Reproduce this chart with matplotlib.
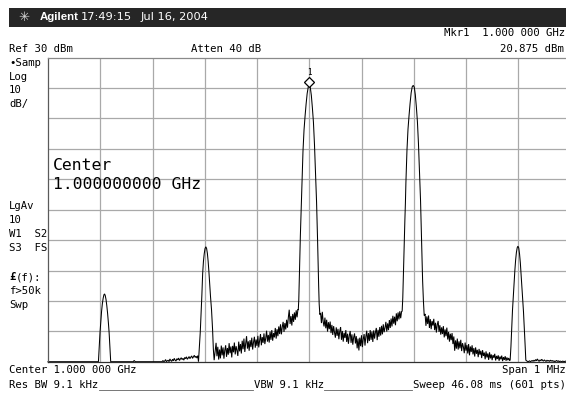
import matplotlib
matplotlib.use("Agg")
import matplotlib.pyplot as plt
from matplotlib.patches import Rectangle

# ---- instrument settings ----
ref_level_dbm = 30
scale_db_per_div = 10
span_khz = 1000
sweep_points = 601
bin_khz = span_khz / (sweep_points - 1)
marker_khz = 0.0
marker_dbm = 20.875

# ---- carrier responses: (offset from center in kHz, level in dBm) ----
peak_m400 = [(-403.5, -70.0), (-402.0, -65.0), (-400.5, -60.5), (-399.0, -57.0),
             (-397.5, -53.5), (-396.0, -51.0), (-394.5, -49.2), (-393.0, -48.0),
             (-391.8, -47.7), (-390.5, -48.2), (-389.0, -49.5), (-387.5, -51.5),
             (-386.0, -54.0), (-384.5, -57.0), (-383.0, -60.5), (-381.5, -65.0),
             (-380.0, -70.0)]
peak_m200 = [(-212.0, -70.0), (-210.0, -64.5), (-208.5, -60.0), (-207.0, -54.0),
             (-205.5, -48.0), (-204.0, -41.0), (-202.5, -37.0), (-201.0, -34.5),
             (-199.5, -32.8), (-198.0, -32.2), (-196.5, -32.7), (-195.0, -34.3),
             (-193.5, -37.0), (-192.0, -40.5), (-190.5, -44.5), (-189.0, -48.5),
             (-187.0, -53.0), (-185.0, -59.5), (-183.5, -66.0), (-182.0, -69.5)]
peak_0 = [(-21.0, -53.0), (-20.0, -49.5), (-19.0, -42.0), (-18.0, -35.0), (-17.0, -28.5),
          (-16.0, -23.0), (-15.0, -18.5), (-14.0, -11.5), (-13.0, -6.0), (-12.0, -0.8),
          (-11.0, 3.0), (-10.0, 6.2), (-8.0, 10.8), (-6.0, 14.8), (-4.0, 18.2),
          (-2.0, 20.3), (0.0, 20.875), (2.0, 20.2), (4.0, 17.6), (6.0, 13.5),
          (8.0, 8.8), (10.0, 1.5), (12.0, -8.0), (14.0, -17.5), (16.0, -30.5),
          (17.0, -38.5), (18.0, -45.0), (19.0, -51.0), (20.3, -54.5)]
peak_200 = [(177.8, -53.4), (179.0, -49.0), (180.0, -42.5), (181.0, -35.5), (182.0, -29.0),
            (183.0, -23.5), (184.0, -18.0), (185.0, -11.0), (186.0, -5.5), (187.0, -0.5),
            (188.0, 3.2), (189.0, 6.5), (191.0, 11.0), (193.0, 15.0), (195.0, 18.4),
            (197.0, 20.4), (199.0, 20.9), (201.0, 20.3), (203.0, 17.8), (205.0, 13.8),
            (207.0, 9.0), (209.0, 1.8), (211.0, -7.5), (213.0, -17.0), (215.0, -29.5),
            (216.0, -37.0), (217.0, -43.5), (218.5, -50.0), (220.0, -54.8)]
peak_400 = [(384.5, -69.5), (386.0, -65.0), (387.5, -59.0), (389.0, -53.0), (390.5, -48.5),
            (392.0, -44.5), (393.5, -40.0), (395.0, -36.5), (396.5, -34.0), (398.0, -32.5),
            (399.4, -32.0), (401.0, -32.6), (402.5, -34.6), (404.0, -37.5), (405.5, -41.5),
            (407.0, -45.5), (408.5, -49.5), (410.0, -53.5), (411.5, -58.5), (413.0, -64.0),
            (414.5, -69.5)]

# ---- flat floor stretches (kHz, dBm) ----
floor_left = [(-500.0, -70.0), (-405.0, -70.0)]
floor_mid = [(-378.0, -70.0), (-337.0, -70.0), (-335.0, -69.6), (-333.0, -70.0),
             (-283.3, -70.0)]

# ---- noise stretches: first bin offset (kHz) and the dBm of each following bin ----
noise_a_start = -281.67
noise_a = [-70.0, -69.6, -70.0, -69.8, -69.3, -70.0, -69.7, -69.5, -70.0, -69.1,
           -69.6, -69.9, -69.2, -69.7, -68.9, -69.5, -69.8, -69.0, -69.4, -68.8,
           -69.6, -69.1, -68.7, -69.3, -68.9, -69.5, -68.6, -69.0, -68.4, -69.2,
           -68.8, -68.3, -69.0, -68.5, -68.1, -68.9, -68.4, -67.9, -68.6, -68.2,
           -68.8, -68.0]
noise_b_start = -178.33
noise_b = [-63.8, -68.2, -65.1, -69.3, -66.0, -68.9, -64.7, -67.9, -65.3, -69.0,
           -66.2, -64.6, -68.4, -65.5, -67.7, -63.9, -67.2, -65.0, -68.6, -64.8,
           -66.9, -63.7, -67.6, -64.9, -66.3, -68.1, -63.4, -66.6, -64.2, -67.3,
           -63.1, -65.9, -62.4, -66.8, -64.0, -61.6, -65.7, -63.3, -66.4, -62.9,
           -65.2, -62.1, -66.0, -63.6, -61.8, -65.4, -62.7, -64.8, -61.5, -65.3,
           -63.0, -60.9, -64.6, -61.9, -63.8, -60.7, -64.2, -62.3, -59.8, -63.4,
           -61.2, -63.7, -60.1, -62.8, -59.6, -63.1, -60.6, -62.0, -58.9, -62.4,
           -59.3, -61.6, -58.4, -60.9, -57.7, -61.0, -58.6, -56.9, -60.2, -57.3,
           -59.4, -56.2, -58.8, -55.4, -52.9, -57.6, -55.0, -58.1, -54.3, -56.9,
           -53.8, -56.2, -53.1, -55.4, -52.8]
noise_c_start = 21.67
noise_c = [-54.0, -57.3, -53.6, -56.9, -58.4, -55.5, -59.0, -56.2, -60.1, -57.0,
           -59.3, -56.8, -60.6, -57.9, -61.2, -58.3, -60.4, -62.1, -58.7, -61.5,
           -59.2, -62.6, -60.0, -58.6, -62.8, -59.9, -63.4, -60.5, -62.2, -59.6,
           -63.5, -60.8, -64.1, -61.4, -59.9, -63.8, -61.0, -64.4, -62.0, -60.7,
           -64.0, -61.6, -65.6, -62.4, -66.3, -62.1, -64.9, -61.3, -65.2, -62.6,
           -60.9, -64.7, -61.7, -59.8, -63.9, -60.6, -63.2, -59.6, -62.8, -60.1,
           -63.5, -59.7, -62.4, -60.3, -58.9, -62.9, -59.5, -61.8, -58.6, -61.4,
           -58.2, -61.0, -57.7, -60.3, -58.8, -56.9, -60.1, -57.4, -59.6, -56.3,
           -58.9, -55.8, -58.4, -54.9, -57.5, -55.2, -58.0, -54.1, -56.7, -53.8,
           -56.1, -53.4, -55.7, -53.5]
noise_d_start = 221.67
noise_d = [-54.3, -58.2, -55.1, -57.6, -54.8, -58.9, -56.0, -59.3, -56.6, -58.1,
           -55.9, -59.6, -57.2, -60.4, -57.8, -56.6, -60.2, -58.0, -61.1, -58.7,
           -60.9, -58.3, -62.0, -59.4, -61.6, -58.8, -62.7, -60.2, -63.4, -60.8,
           -62.9, -60.6, -64.2, -61.7, -66.4, -63.0, -65.7, -62.4, -66.0, -63.3,
           -65.6, -62.8, -66.5, -63.9, -65.1, -67.2, -63.7, -66.4, -64.5, -67.3,
           -64.2, -67.9, -65.0, -66.8, -64.6, -67.6, -65.5, -68.3, -65.3, -67.4,
           -66.1, -68.5, -65.8, -67.7, -66.4, -68.8, -66.2, -68.1, -67.0, -69.2,
           -66.6, -68.6, -67.3, -69.4, -66.9, -68.9, -67.6, -69.5, -67.8, -68.7,
           -67.4, -69.6, -68.1, -69.1, -67.9, -69.7, -68.3, -69.2, -68.0, -69.8,
           -68.5, -69.4, -68.2, -69.7, -68.6, -69.5, -68.8, -69.6]
noise_e_start = 416.67
noise_e = [-69.8, -70.0, -69.9, -69.7, -70.0, -69.8, -69.6, -69.9, -69.5, -69.8,
           -69.3, -69.7, -69.1, -69.6, -69.9, -69.4, -69.7, -69.2, -69.6, -69.8,
           -69.4, -69.7, -69.9, -69.5, -69.8, -69.6, -69.9, -69.5, -69.8, -69.6,
           -69.9, -69.7, -70.0, -69.8, -69.6, -69.9, -69.7, -70.0, -69.8, -69.9,
           -70.0, -69.8, -69.9, -70.0, -69.8, -69.9, -70.0, -69.9, -70.0, -69.9,
           -70.0]


def binned(start, values):
    return [(start + i * bin_khz, v) for i, v in enumerate(values)]


trace = sorted(floor_left + peak_m400 + floor_mid + binned(noise_a_start, noise_a)
               + peak_m200 + binned(noise_b_start, noise_b) + peak_0
               + binned(noise_c_start, noise_c) + peak_200
               + binned(noise_d_start, noise_d) + peak_400
               + binned(noise_e_start, noise_e))
trace_khz = [p[0] for p in trace]
trace_dbm = [p[1] for p in trace]

# ---- figure laid out in pixel units ----
W, H = 566, 394
fig = plt.figure(figsize=(W / 100, H / 100), dpi=100)
fig.patch.set_facecolor("white")

MONO = "DejaVu Sans Mono"


def txt(x, y, s, size=7.7, ha="left", family=MONO, color="black", **kw):
    fig.text(x / W, 1 - y / H, s, ha=ha, va="center", fontsize=size,
             family=family, color=color, **kw)


# title bar
fig.patches.append(Rectangle((9 / W, 1 - 26.7 / H), (W - 9) / W, 18.4 / H,
                             transform=fig.transFigure, facecolor="#262626",
                             edgecolor="none"))
txt(23.5, 17.5, "\u2733", size=9.5, ha="center", family="DejaVu Sans", color="#d8d8d8")
txt(40, 17.5, "Agilent", size=8.2, family="Liberation Sans", color="white",
    weight="bold")
txt(81, 17.5, "17:49:15", size=8.2, family="DejaVu Sans", color="white")
txt(141, 17.5, "Jul 16, 2004", size=8.2, family="DejaVu Sans", color="white")

# header annotations
txt(565, 33.5, "Mkr1  1.000 000 GHz", ha="right")
txt(9, 49.5, "Ref 30 dBm")
txt(191, 49.5, "Atten 40 dB")
txt(564, 49.5, "20.875 dBm", ha="right")

# left column
for y, s in [(62.5, "\u2022Samp"), (76.5, "Log"), (90, "10"), (104, "dB/"),
             (206, "LgAv"), (220, "10"), (234, "W1  S2"), (248, "S3  FS"),
             (291, "f>50k"), (305, "Swp")]:
    txt(9, y, s)
txt(9, 277.5, "\u00a3", weight="bold")
txt(15.4, 277.5, "(f):")

# bottom annotations
txt(9, 370, "Center 1.000 000 GHz")
txt(566, 370, "Span 1 MHz", ha="right")
txt(9, 385, "Res BW 9.1 kHz")
txt(254, 385, "VBW 9.1 kHz")
txt(413, 385, "Sweep 46.08 ms (601 pts)")
for x0, x1 in [(99, 253), (324, 412)]:
    fig.add_artist(plt.Line2D([x0 / W, x1 / W], [1 - 389.5 / H, 1 - 389.5 / H],
                              transform=fig.transFigure, color="#606060", lw=0.6))

# ---- graticule ----
ax = fig.add_axes([48 / W, 1 - 361.7 / H, (570.5 - 48) / W, (361.7 - 57.7) / H])
ax.set_xlim(-span_khz / 2, span_khz / 2)
ax.set_ylim(ref_level_dbm - 10 * scale_db_per_div, ref_level_dbm)
ax.set_xticks(range(-400, 500, 100))
ax.set_yticks(range(-60, 30, 10))
ax.grid(True, color="#a9a9a9", lw=0.9)
ax.tick_params(length=0, labelbottom=False, labelleft=False)
ax.spines["top"].set_color("#8a8a8a")
ax.spines["left"].set_color("#5a5a5a")
ax.spines["bottom"].set_color("#303030")
for side in ("left", "bottom", "top"):
    ax.spines[side].set_linewidth(0.9)
ax.spines["right"].set_visible(False)

ax.plot(trace_khz, trace_dbm, color="black", lw=0.75, clip_on=False,
        solid_joinstyle="miter")

# marker 1
ax.plot(marker_khz, marker_dbm + 1.2, marker="D", ms=4.6, mfc="white", mec="black",
        mew=0.9, clip_on=False)
ax.text(marker_khz, marker_dbm + 4.3, "1", ha="center", va="center", fontsize=5.5,
        family=MONO)

# large center frequency readout
txt(53, 165, "Center", size=11.8)
txt(53, 184.5, "1.000000000 GHz", size=11.8)

fig.savefig("out.png", dpi=100)
